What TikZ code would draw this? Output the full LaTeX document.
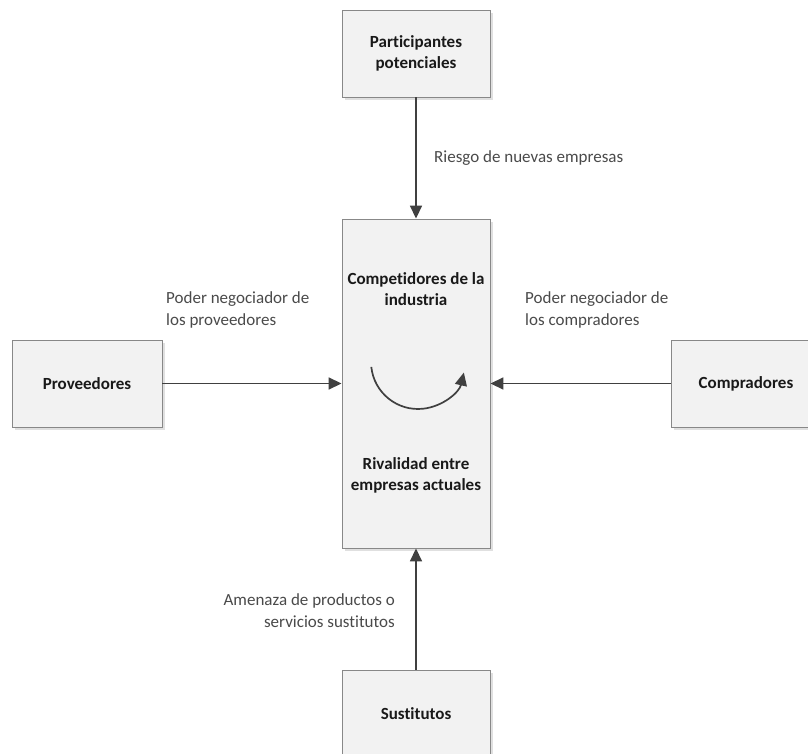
\documentclass[tikz,border=0pt]{standalone}
\usepackage{fontspec}
\setmainfont{Carlito}[Ligatures=NoCommon]
\usetikzlibrary{arrows.meta,positioning}
\definecolor{boxfill}{HTML}{F2F2F2}
\definecolor{boxline}{HTML}{888888}
\definecolor{linecol}{HTML}{404040}
\definecolor{labcol}{HTML}{4A4A4A}
\tikzset{
  forcebox/.style={draw=boxline, fill=boxfill, line width=0.9pt, minimum width=148pt, minimum height=87pt, inner sep=0pt, align=center, font=\fontsize{17}{21}\selectfont\bfseries, text=black!90},
  boxtext/.style={font=\fontsize{17}{21}\selectfont\bfseries, text=black!90, align=center, inner sep=0pt},
  shadowbox/.style={fill=black!12, draw=none},
  forcearrow/.style={draw=linecol, line width=1.7pt, -{Triangle[length=13pt,width=12pt]}},
  lab/.style={font=\fontsize{17}{22.5}\selectfont, text=labcol, inner sep=0pt}
}
\begin{document}
\begin{tikzpicture}[x=1pt,y=-1pt]
\useasboundingbox (0,0) rectangle (808,754);
\clip (0,0) rectangle (808,754);
\fill[white] (0,0) rectangle (808,754);
% shadows
\fill[shadowbox] (345,13) rectangle (493,100);
\fill[shadowbox] (345,222) rectangle (493,551);
\fill[shadowbox] (15,343) rectangle (165,430);
\fill[shadowbox] (674,343) rectangle (824,430);
\fill[shadowbox] (345,673) rectangle (493,760);
% boxes
\node[forcebox] (P) at (416,53.5) {Participantes\\potenciales};
\node[forcebox, minimum height=329pt] (C) at (416,383.5) {};
\node[forcebox, minimum width=150pt] (L) at (87,383.5) {Proveedores};
\node[forcebox, minimum width=150pt, text width=150pt] (R) at (746,383.5) {Compradores};
\node[forcebox] (S) at (416,713.5) {Sustitutos};
% center texts
\node[boxtext] (Ct) at (416,289) {Competidores de la\\industria};
\node[boxtext] (Cb) at (416,475.5) {Rivalidad entre\\empresas actuales};
% rotation arrow
\coordinate (rs) at (371.3,366.9);
\draw[draw=linecol, line width=1.7pt, -{Triangle[length=13pt,width=12pt]}] (rs) arc[start angle=174, end angle=13, radius=47];
% connectors
\draw[forcearrow] (P.south) -- (C.north);
\draw[forcearrow] (L.east) -- (C.west);
\draw[forcearrow] (R.west) -- (C.east);
\draw[forcearrow] (S.north) -- (C.south);
% labels
\node[lab, anchor=west] (l1) at (434,158) {Riesgo de nuevas empresas};
\node[lab, anchor=north west, align=left] (l2) at (166,291) {Poder negociador de\\los proveedores};
\node[lab, anchor=north west, align=left] (l3) at (525,291) {Poder negociador de\\los compradores};
\node[lab, anchor=north east, align=right] (l4) at (395,593) {Amenaza de productos o\\servicios sustitutos};
\end{tikzpicture}
\end{document}
